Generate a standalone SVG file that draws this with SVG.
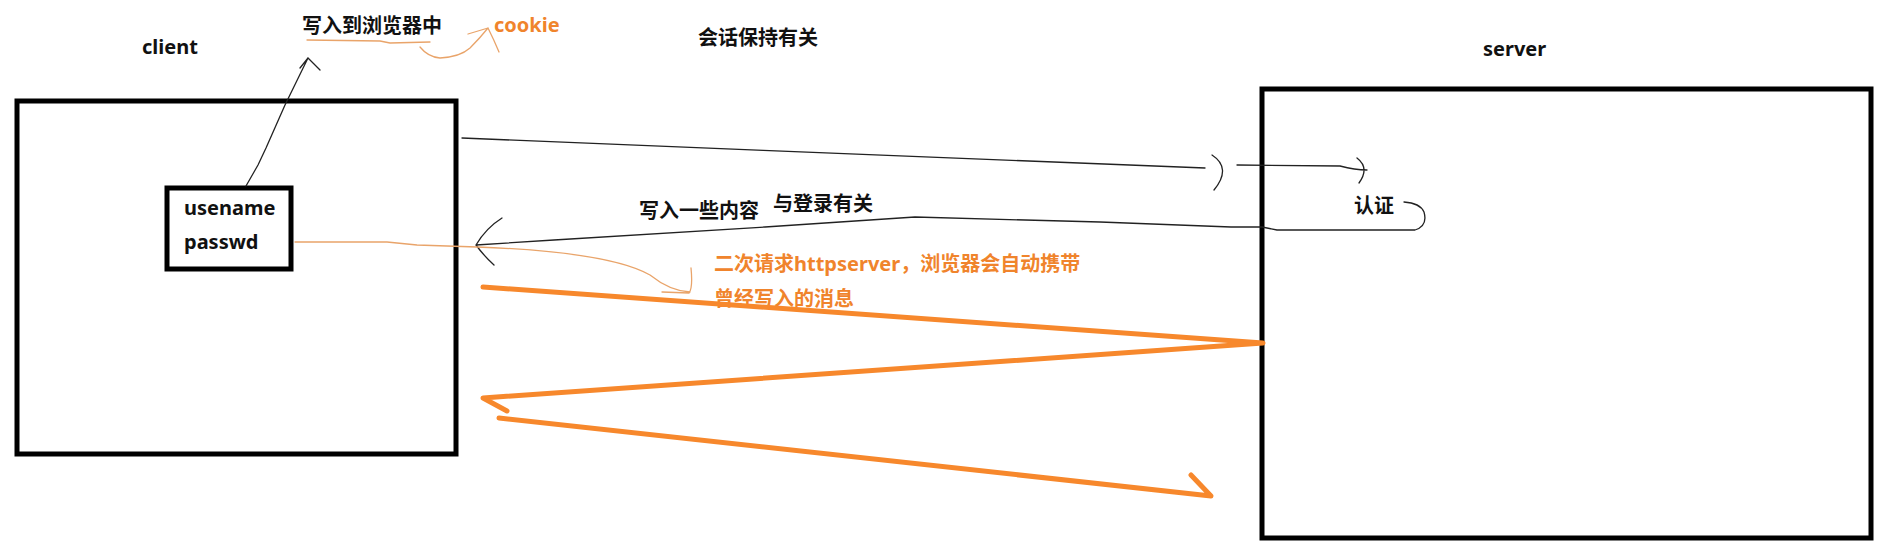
<svg xmlns="http://www.w3.org/2000/svg" width="1888" height="555" viewBox="0 0 1888 555">
<style>
.t{font-family:"Noto Sans","Noto Sans CJK SC",sans-serif;font-weight:bold;font-size:20px;fill:#111}
.o{fill:#f0842c}
.box{fill:none;stroke:#000;stroke-width:5}
.thin{fill:none;stroke:#222;stroke-width:1.3;stroke-linecap:round;stroke-linejoin:round}
.othin{fill:none;stroke:#e9a46a;stroke-width:1.3;stroke-linecap:round;stroke-linejoin:round}
.thick{fill:none;stroke:#f7882c;stroke-width:5;stroke-linecap:round;stroke-linejoin:round}
</style>
<rect width="1888" height="555" fill="#fff"/>
<g id="client">
<rect class="box" x="17" y="101" width="439" height="353"/>
<text class="t" x="142" y="54">client</text>
</g>
<g id="credentials">
<rect class="box" x="167" y="188" width="124" height="81" stroke-width="4"/>
<text class="t" x="184" y="215">usename</text>
<text class="t" x="184" y="249">passwd</text>
</g>
<g id="server">
<rect class="box" x="1262" y="89" width="609" height="449"/>
<text class="t" x="1483" y="56">server</text>
</g>
<g id="labels">
<text class="t" x="302" y="33" font-size="18">写入到浏览器中</text>
<text class="t o" x="494" y="32" font-size="19">cookie</text>
<text class="t" x="698" y="45">会话保持有关</text>
<text class="t" x="1354" y="213">认证</text>
<text class="t" x="639" y="218">写入一些内容</text>
<text class="t" x="773" y="211">与登录有关</text>
<text class="t o" x="714" y="271">二次请求httpserver，浏览器会自动携带</text>
<text class="t o" x="714" y="306">曾经写入的消息</text>
</g>
<g id="connectors">
<path class="thin" d="M246,186 L258,165 L266,148 L285,105 L308,58 M308,58 L300,68 M308,58 L320,70"/>
<path class="othin" d="M307,40 L380,41 L390,43 L430,42"/>
<path class="othin" d="M420,47 Q428,57 440,58 Q460,57 470,48 Q480,38 488,28 M488,28 L468,34 M488,28 Q494,40 499,52"/>
<path class="thin" d="M462,138 C700,148 1000,160 1205,168 M1212,155 Q1232,168 1214,190 M1237,165 L1340,166 Q1355,170 1367,170 M1357,158 Q1370,168 1359,183"/>
<path class="thin" d="M1404,202 Q1420,203 1424,212 Q1428,226 1415,230 L1277,230 L1262,227 L1231,227 L1100,222 L915,217 L765,227 L554,240 L476,245 M476,245 Q486,228 502,218 M476,245 Q484,256 494,265"/>
<path class="othin" d="M295,242 L387,242 L417,245 L477,247 C560,250 620,258 650,275 Q670,291 690,292 M691,268 Q693,288 689,293 L662,292"/>
<path class="thick" d="M483,287 L1263,343 L483,398 L507,411 M499,418 L1211,496 L1191,475"/>
</g>
</svg>
